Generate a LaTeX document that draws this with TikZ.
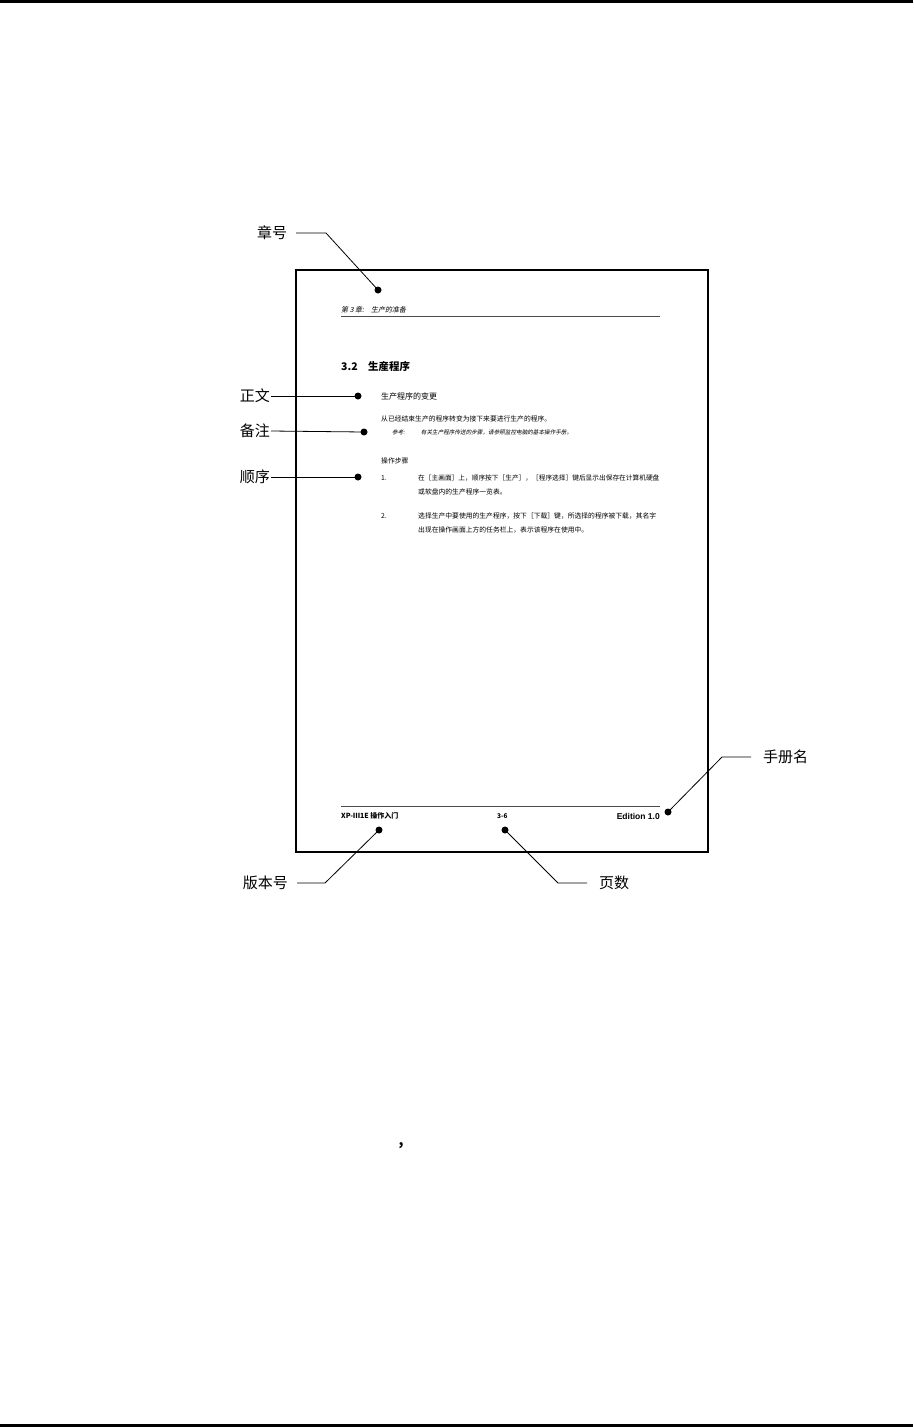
\documentclass[tikz,border=0pt]{standalone}
\usepackage{fontspec}
\setmainfont{Liberation Sans}
\newfontfamily\cjk{Noto Sans CJK SC}
\newfontfamily\cjkit[FakeSlant=0.2]{Noto Sans CJK SC}
\newfontfamily\arialb{Liberation Sans}
\begin{document}
\begin{tikzpicture}[x=1pt,y=-1pt,
  lbl/.style={font=\cjk\fontsize{15}{15}\selectfont, inner sep=0pt},
  txt/.style={font=\cjk\fontsize{6.8}{7}\selectfont, inner sep=0pt, anchor=west},
  itx/.style={font=\cjkit\fontsize{5.6}{6}\selectfont, inner sep=0pt, anchor=west},
  dotm/.style={circle, fill=black, inner sep=0pt, minimum size=7pt},
  lead/.style={line width=0.8pt},
  pageframe/.style={line width=1.8pt}]
\useasboundingbox (0,0) rectangle (913,1427);
% top and bottom rules
\fill (0,0) rectangle (913,2.5);
\fill (0,1423.5) rectangle (913,1427);
% page frame
\draw[pageframe] (296,270) rectangle (708,852);
% header
\node[itx, font=\cjkit\fontsize{7}{7}\selectfont] (hdr) at (341,310) {第 3 章:\quad 生产的准备};
\draw[line width=1pt, black!70] (341,316.5) -- (660,316.5);
\node[anchor=west, inner sep=0pt, font=\cjk\bfseries\fontsize{10.5}{11}\selectfont] (sec) at (341,367) {3.2\quad 生産程序};
% body
\node[txt, font=\cjk\fontsize{8}{8}\selectfont] (t1) at (381,396) {生产程序的变更};
\node[txt] (t2) at (381,419) {从已经结束生产的程序转变为接下来要进行生产的程序。};
\node[itx] (t3) at (392,432) {参考:\hspace{16pt}有关生产程序传送的步骤，请参照监控电脑的基本操作手册。};
\node[txt] (t4) at (381,461) {操作步骤};
\node[txt] (s1n) at (381,478) {1.};
\node[txt, font=\cjk\fontsize{6.7}{7}\selectfont] (s1a) at (418,478) {在［主画面］上，顺序按下［生产］，［程序选择］键后显示出保存在计算机硬盘};
\node[txt] (s1b) at (418,492) {或软盘内的生产程序一览表。};
\node[txt] (s2n) at (381,516) {2.};
\node[txt] (s2a) at (418,516) {选择生产中要使用的生产程序，按下［下载］键，所选择的程序被下载，其名字};
\node[txt] (s2b) at (418,530) {出现在操作画面上方的任务栏上，表示该程序在使用中。};
% footer
\draw[line width=1pt, black!70] (341,806.5) -- (660,806.5);
\node[anchor=west, inner sep=0pt, font=\cjk\bfseries\fontsize{7}{7}\selectfont] (f1) at (341,816) {XP-Ⅲ1E 操作入门};
\node[anchor=west, inner sep=0pt, font=\cjk\bfseries\fontsize{6.5}{7}\selectfont] (f2) at (497,816) {3-6};
\node[anchor=east, inner sep=0pt, font=\arialb\bfseries\fontsize{8.5}{9}\selectfont] (f3) at (660,816) {Edition 1.0};
% dots
\node[dotm] (d1) at (378,290) {};
\node[dotm] (d2) at (358,396) {};
\node[dotm] (d3) at (364,432) {};
\node[dotm] (d4) at (358,477) {};
\node[dotm] (d5) at (668,812) {};
\node[dotm] (d6) at (379,830) {};
\node[dotm] (d7) at (505,830) {};
% labels
\node[lbl] (l1) at (272,233) {章号};
\node[lbl, anchor=east] (l2) at (270,396) {正文};
\node[lbl, anchor=east] (l3) at (270,431) {备注};
\node[lbl, anchor=east] (l4) at (270,477) {顺序};
\node[lbl, anchor=west] (l5) at (763,757) {手册名};
\node[lbl, anchor=east] (l6) at (288,883) {版本号};
\node[lbl, anchor=west] (l7) at (599,883) {页数};
% leaders
\coordinate (c1) at (326,233);
\coordinate (c5) at (722,757);
\coordinate (c6) at (325,883);
\coordinate (c7) at (558,883);
\draw[lead] ([xshift=9pt]l1.east) -- (c1) -- (d1.center);
\draw[lead] ([xshift=1pt]l2.east) -- (d2.center);
\draw[lead] ([xshift=1pt]l3.east) -- (d3.center);
\draw[lead] ([xshift=1pt]l4.east) -- (d4.center);
\draw[lead] ([xshift=-12pt]l5.west) -- (c5) -- (d5.center);
\draw[lead] ([xshift=9pt]l6.east) -- (c6) -- (d6.center);
\draw[lead] ([xshift=-12pt]l7.west) -- (c7) -- (d7.center);
% stray comma
\node[inner sep=0pt, font=\cjk\bfseries\fontsize{14}{14}\selectfont] (cm) at (401,1146) {,};
\end{tikzpicture}
\end{document}
